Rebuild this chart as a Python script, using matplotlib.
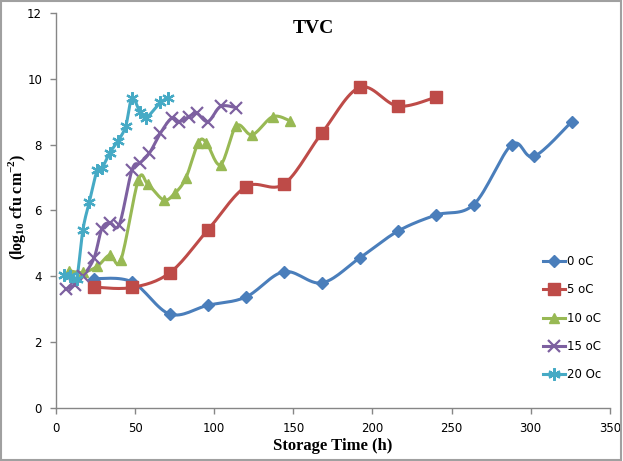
import numpy as np
import matplotlib
matplotlib.use("Agg")
import matplotlib.pyplot as plt
from matplotlib.patches import Rectangle

plt.rcParams["mathtext.fontset"] = "custom"
plt.rcParams["mathtext.bf"] = "Liberation Serif:bold"
plt.rcParams["mathtext.rm"] = "Liberation Serif:bold"

# ---- data ----
t0 = [24, 48, 72, 96, 120, 144, 168, 192, 216, 240, 264, 288, 302, 326]
v0 = [3.93, 3.83, 2.85, 3.12, 3.37, 4.14, 3.8, 4.56, 5.37, 5.86, 6.18, 8.0, 7.64, 8.7]

t5 = [24, 48, 72, 96, 120, 144, 168, 192, 216, 240]
v5 = [3.67, 3.66, 4.11, 5.41, 6.72, 6.8, 8.35, 9.74, 9.17, 9.44]

t10 = [8, 17, 26, 34, 41, 52, 58, 68, 75, 82, 90, 95, 104, 114, 124, 137, 148]
v10 = [4.17, 4.12, 4.3, 4.65, 4.5, 6.92, 6.8, 6.32, 6.52, 6.98, 8.06, 8.06, 7.39, 8.57, 8.3, 8.85, 8.72]

t15 = [6, 12, 17, 24, 29, 34, 40, 48, 53, 59, 66, 73, 78, 84, 89, 96, 104, 114]
v15 = [3.6, 3.75, 4.0, 4.55, 5.45, 5.63, 5.57, 7.23, 7.44, 7.74, 8.35, 8.8, 8.7, 8.85, 8.95, 8.7, 9.16, 9.12]

t20 = [5, 9, 13, 17, 21, 26, 29, 34, 39, 44, 48, 53, 57, 66, 71]
v20 = [4.05, 4.0, 3.92, 5.41, 6.25, 7.22, 7.28, 7.75, 8.1, 8.55, 9.41, 9.0, 8.82, 9.28, 9.42]

labels = ["0 oC", "5 oC", "10 oC", "15 oC", "20 Oc"]
xticks = [0, 50, 100, 150, 200, 250, 300, 350]
yticks = [0, 2, 4, 6, 8, 10, 12]

colors = ["#4A7EBB", "#BE4B48", "#98B954", "#7D60A0", "#46AAC5"]
markers = ["D", "s", "^", "x", (6, 2, 0)]
msizes = [6, 8, 7.5, 8, 9]


def smooth(x, y, n=16):
    """Catmull-Rom style smoothing for drawing only (Excel 'smoothed line')."""
    x = np.asarray(x, float)
    y = np.asarray(y, float)
    if len(x) < 3:
        return x, y
    P = np.column_stack([x, y])
    P = np.vstack([P[0], P, P[-1]])
    out = []
    for i in range(1, len(P) - 2):
        p0, p1, p2, p3 = P[i - 1], P[i], P[i + 1], P[i + 2]
        for s in np.linspace(0, 1, n, endpoint=False):
            s2, s3 = s * s, s * s * s
            pt = 0.5 * ((2 * p1) + (-p0 + p2) * s + (2 * p0 - 5 * p1 + 4 * p2 - p3) * s2
                        + (-p0 + 3 * p1 - 3 * p2 + p3) * s3)
            out.append(pt)
    out.append(P[-2])
    out = np.array(out)
    return out[:, 0], out[:, 1]


fig = plt.figure(figsize=(6.23, 4.61), dpi=100)
ax = fig.add_axes([0.0899, 0.115, 0.889, 0.857])

series = [(t0, v0), (t5, v5), (t10, v10), (t15, v15), (t20, v20)]
handles = []
for (t, v), c, m, ms, lab in zip(series, colors, markers, msizes, labels):
    mew = 1.6 if (m == "x" or isinstance(m, tuple)) else 1
    sx, sy = smooth(t, v)
    ax.plot(sx, sy, color=c, lw=2.2, solid_capstyle="round", zorder=2)
    ax.plot(t, v, linestyle="none", marker=m, color=c, markersize=ms,
            markeredgewidth=mew, markeredgecolor=c, zorder=3)
    h, = ax.plot([], [], color=c, lw=2.2, marker=m, markersize=ms,
                 markeredgewidth=mew, label=lab)
    handles.append(h)

ax.set_xlim(0, 350)
ax.set_ylim(0, 12)
ax.set_xticks(xticks)
ax.set_yticks(yticks)

tickfont = {"family": ["Liberation Sans Narrow", "DejaVu Sans"], "size": 8.5}
ax.set_xticklabels([str(x) for x in xticks], fontdict=tickfont)
ax.set_yticklabels([str(y) for y in yticks], fontdict=tickfont)

for s in ["top", "right"]:
    ax.spines[s].set_visible(False)
for s in ["left", "bottom"]:
    ax.spines[s].set_color("#868686")
    ax.spines[s].set_linewidth(1.0)
ax.tick_params(direction="out", length=4, color="#868686", width=1, pad=6)

ax.set_xlabel("Storage Time (h)", fontfamily="Liberation Serif", fontweight="bold",
              fontsize=12, labelpad=2)
ax.set_ylabel(r"(log$_{\mathbf{10}}$ cfu cm$^{\mathbf{-2}}$)", fontfamily="Liberation Serif",
              fontweight="bold", fontsize=11.5)
ax.yaxis.set_label_coords(-0.071, 0.51)
ax.yaxis.label.set_verticalalignment("center")
fig.text(0.503, 0.938, "TVC", fontfamily="Liberation Serif", fontweight="bold",
         fontsize=14, ha="center", va="center")

leg = ax.legend(handles=handles, loc="center left", bbox_to_anchor=(0.86, 0.227),
                frameon=False, handlelength=1.9, handletextpad=0.1,
                labelspacing=1.3, prop={"family": ["Liberation Sans Narrow", "DejaVu Sans"], "size": 8.5})

fig.patches.append(Rectangle((0.002, 0.003), 0.995, 0.994, transform=fig.transFigure,
                             fill=False, edgecolor="#A0A0A0", lw=1.5))

fig.savefig("out.png", dpi=100)
